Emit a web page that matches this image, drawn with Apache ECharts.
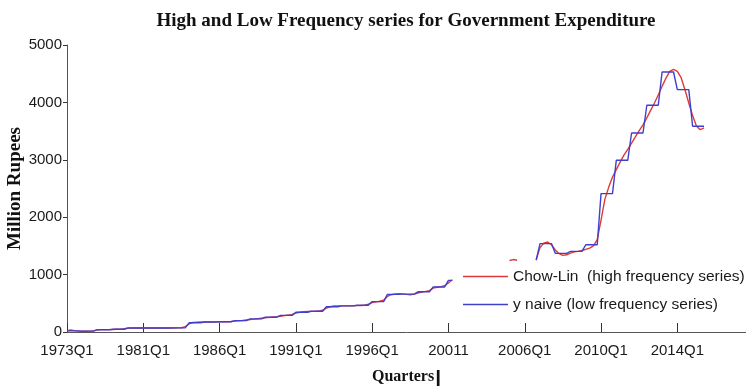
<!DOCTYPE html>
<html>
<head>
<meta charset="utf-8">
<script src="https://cdn.jsdelivr.net/npm/echarts@6/dist/echarts.min.js"></script>
<style>
  html, body { margin: 0; padding: 0; background: #fff; }
  #chart { width: 746px; height: 386px; }
</style>
</head>
<body>
<div id="chart"></div>
<script>
// Quarter index 0 = first quarter of the sample; ticks every 20 quarters.
var tickLabels = ['1973Q1', '1981Q1', '1986Q1', '1991Q1', '1996Q1', '20011', '2006Q1', '2010Q1', '2014Q1'];

// Chow-Lin interpolated quarterly series (one row per year, null = missing).
var chowLin = [
  22, 35, 24, 16,
  12, 13, 16, 24,
  38, 42, 41, 42,
  44, 47, 50, 58,
  68, 70, 70, 70,
  70, 70, 70, 70,
  70, 70, 70, 70,
  70, 71, 74, 95,
  140, 165, 172, 176,
  175, 175, 175, 176,
  176, 177, 179, 184,
  190, 195, 200, 210,
  217, 224, 232, 240,
  248, 255, 262, 268,
  275, 285, 295, 308,
  330, 345, 353, 357,
  360, 361, 364, 378,
  415, 440, 452, 455,
  455, 455, 455, 457,
  460, 462, 466, 485,
  512, 525, 535, 555,
  620, 650, 663, 668,
  665, 656, 650, 660,
  680, 695, 707, 720,
  765, 780, 790, 805,
  855, 910, null, null,
  null, null, null, null,
  null, null, null, null,
  null, null, null, null,
  1245, 1262, 1250, null,
  null, null, null, 1265,
  1470, 1548, 1568, 1520,
  1430, 1365, 1335, 1345,
  1375, 1395, 1405, 1420,
  1440, 1460, 1500, 1610,
  1950, 2310, 2520, 2700,
  2830, 2960, 3080, 3180,
  3290, 3400, 3510, 3610,
  3730, 3860, 3990, 4130,
  4280, 4420, 4540, 4575,
  4540, 4430, 4220, 3990,
  3770, 3590, 3525, 3555
];

// Naive low-frequency series: annual level held over its four quarters.
var yNaive = [
  20, 20, 20, 20,
  15, 15, 15, 15,
  40, 40, 40, 40,
  48, 48, 48, 48,
  70, 70, 70, 70,
  70, 70, 70, 70,
  70, 70, 70, 70,
  72, 72, 72, 72,
  160, 160, 160, 160,
  175, 175, 175, 175,
  178, 178, 178, 178,
  198, 198, 198, 198,
  228, 228, 228, 228,
  258, 258, 258, 258,
  290, 290, 290, 290,
  345, 345, 345, 345,
  362, 362, 362, 362,
  440, 440, 440, 440,
  455, 455, 455, 455,
  465, 465, 465, 465,
  530, 530, 530, 530,
  655, 655, 655, 655,
  660, 660, 660, 660,
  700, 700, 700, 700,
  785, 785, 785, 785,
  900, 900, null, null,
  null, null, null, null,
  null, null, null, null,
  null, null, null, null,
  null, null, null, null,
  null, null, null, 1250,
  1540, 1540, 1540, 1540,
  1370, 1370, 1370, 1370,
  1405, 1405, 1405, 1405,
  1520, 1520, 1520, 1520,
  2411, 2411, 2411, 2411,
  2991, 2991, 2991, 2991,
  3467, 3467, 3467, 3467,
  3950, 3950, 3950, 3950,
  4530, 4530, 4530, 4530,
  4223, 4223, 4223, 4223,
  3584, 3584, 3584, 3584
];

function toPairs(arr) {
  return arr.map(function (v, i) { return [i, v == null ? '-' : v]; });
}

var sans = "'Liberation Sans', Arial, sans-serif";
var serif = "'Liberation Serif', 'Times New Roman', serif";

var chart = echarts.init(document.getElementById('chart'), null, { renderer: 'canvas' });
chart.setOption({
  animation: false,
  backgroundColor: '#ffffff',
  title: {
    text: 'High and Low Frequency series for Government Expenditure',
    left: 406,
    textAlign: 'center',
    top: 12,
    padding: 0,
    textStyle: { fontFamily: serif, fontWeight: 'bold', fontSize: 19, color: '#111' }
  },
  legend: {
    orient: 'vertical',
    left: 463,
    top: 268,
    padding: 0,
    icon: 'rect',
    itemWidth: 45,
    itemHeight: 1.5,
    itemGap: 11,
    textStyle: { fontFamily: sans, fontSize: 15.5, color: '#1a1a1a', lineHeight: 17 },
    data: ['Chow-Lin  (high frequency series)', 'y naive (low frequency series)']
  },
  grid: { left: 67, right: 0, top: 45, bottom: 54, containLabel: false, outerBoundsMode: 'none' },
  xAxis: {
    type: 'value',
    min: 0,
    max: 178,
    interval: 20,
    name: 'Quarters{bar||}',
    nameLocation: 'middle',
    nameGap: 31,
    nameMoveOverlap: false,
    nameTextStyle: {
      fontFamily: serif, fontWeight: 'bold', fontSize: 16, color: '#111',
      rich: { bar: { fontFamily: sans, fontSize: 21, color: '#111', padding: [6, 0, 0, 1] } }
    },
    axisLine: { show: true, lineStyle: { color: '#555', width: 1 } },
    axisTick: { show: true, inside: true, length: 9, lineStyle: { color: '#333' } },
    splitLine: { show: false },
    axisLabel: {
      fontFamily: sans, fontSize: 15, color: '#1a1a1a', margin: 11,
      formatter: function (v) { var k = Math.round(v / 20); return tickLabels[k] || ''; }
    }
  },
  yAxis: {
    type: 'value',
    min: 0,
    max: 5000,
    interval: 1000,
    name: 'Million Rupees',
    nameLocation: 'middle',
    nameGap: 42,
    nameMoveOverlap: false,
    nameTextStyle: { fontFamily: serif, fontWeight: 'bold', fontSize: 19, color: '#111' },
    axisLine: { show: true, lineStyle: { color: '#555', width: 1 } },
    axisTick: { show: true, inside: false, length: 4, lineStyle: { color: '#333' } },
    splitLine: { show: false },
    axisLabel: {
      fontFamily: sans, fontSize: 15, color: '#1a1a1a', margin: 5,
      formatter: function (v) { return String(v); }
    }
  },
  series: [
    {
      name: 'Chow-Lin  (high frequency series)',
      type: 'line',
      symbol: 'none',
      connectNulls: false,
      color: '#dd3b3b',
      lineStyle: { color: '#dd3b3b', width: 1.4 },
      data: toPairs(chowLin)
    },
    {
      name: 'y naive (low frequency series)',
      type: 'line',
      symbol: 'none',
      connectNulls: false,
      color: '#3f3fcf',
      lineStyle: { color: '#3f3fcf', width: 1.4 },
      data: toPairs(yNaive)
    }
  ]
});
</script>
</body>
</html>
